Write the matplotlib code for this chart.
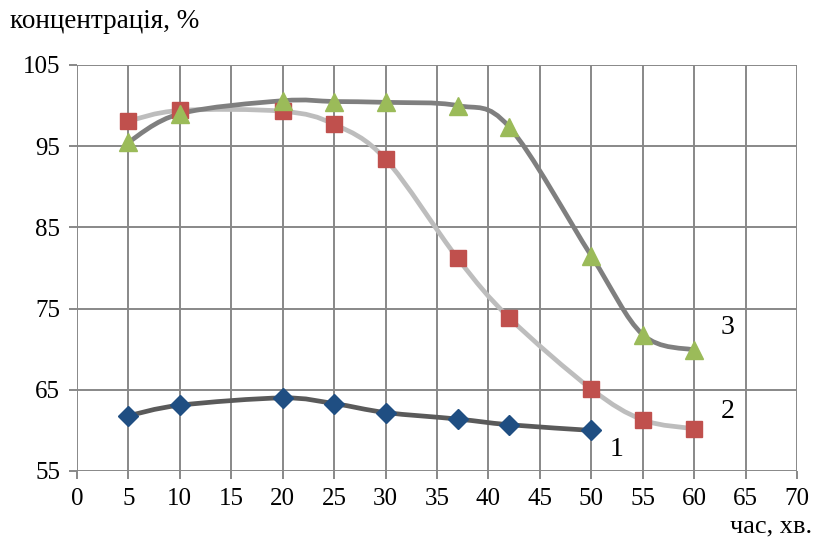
import numpy as np
import matplotlib
matplotlib.use("Agg")
import matplotlib.pyplot as plt
from matplotlib.path import Path
from matplotlib.patches import PathPatch

# Data
x1 = [5, 10, 20, 25, 30, 37, 42, 50]
y1 = [61.8, 63.1, 64.0, 63.3, 62.2, 61.4, 60.7, 60.0]
x2 = [5, 10, 20, 25, 30, 37, 42, 50, 55, 60]
y2 = [98.1, 99.4, 99.3, 97.7, 93.4, 81.2, 73.9, 65.1, 61.3, 60.2]
x3 = [5, 10, 20, 25, 30, 37, 42, 50, 55, 60]
y3 = [95.5, 99.0, 100.6, 100.5, 100.4, 100.0, 97.4, 81.5, 71.8, 69.9]
curve_labels = ["1", "2", "3"]
x_ticks = list(range(0, 75, 5))
y_ticks = [55, 65, 75, 85, 95, 105]

plt.rcParams['font.family'] = ['Liberation Serif', 'DejaVu Serif']

fig = plt.figure(figsize=(8.14, 5.44), dpi=100)
ax = fig.add_axes([77/814, 1-471/544, (797-77)/814, (471-65)/544])
ax.set_xlim(0, 70)
ax.set_ylim(55, 105)


def smooth_path(ax, xs, ys):
    # Excel-like smoothing with cubic Bezier segments computed in display space
    pts = ax.transData.transform(np.column_stack([xs, ys]))
    n = len(pts)
    verts = [pts[0]]
    codes = [Path.MOVETO]
    for i in range(n - 1):
        p0 = pts[i - 1] if i > 0 else pts[i]
        p1 = pts[i]
        p2 = pts[i + 1]
        p3 = pts[i + 2] if i + 2 < n else pts[i + 1]
        c1 = p1 + (p2 - p0) / 6.0
        c2 = p2 - (p3 - p1) / 6.0
        verts += [c1, c2, p2]
        codes += [Path.CURVE4] * 3
    verts = ax.transData.inverted().transform(np.array(verts))
    return Path(verts, codes)


grid_c = '#888888'
for xv in x_ticks:
    ax.axvline(xv, color=grid_c, lw=1.4, zorder=1)
for yv in y_ticks:
    ax.axhline(yv, color=grid_c, lw=1.4, zorder=1)

for xs, ys, col, lw in [(x1, y1, '#5a5a5a', 3.4), (x2, y2, '#bdbdbd', 3.4), (x3, y3, '#7f7f7f', 3.4)]:
    p = smooth_path(ax, xs, ys)
    ax.add_patch(PathPatch(p, facecolor='none', edgecolor=col, lw=lw, zorder=2, capstyle='round'))

ax.plot(x1, y1, linestyle='none', marker='D', ms=10.5, color='#1f4e82', mec='#1f4e82', zorder=3)
ax.plot(x2, y2, linestyle='none', marker='s', ms=12, color='#c0504d', mec='#c0504d', zorder=3)
ax.plot(x3, y3, linestyle='none', marker='^', ms=13.5, color='#9bbb59', mec='#9bbb59', zorder=4)

for s in ax.spines.values():
    s.set_visible(False)
ax.set_xticks(x_ticks)
ax.set_yticks(y_ticks)
ax.tick_params(axis='both', length=6, width=1.4, color=grid_c, labelsize=18, pad=6)

ax.text(52.5, 57.6, curve_labels[0], fontsize=20, ha='center', va='center')
ax.text(63.3, 62.3, curve_labels[1], fontsize=20, ha='center', va='center')
ax.text(63.2, 72.7, curve_labels[2], fontsize=20, ha='center', va='center')

fig.text(10/814, 1-22/544, "концентрація, %", fontsize=19.5, ha='left', va='center')
fig.text(812/814, 1-526/544, "час, хв.", fontsize=19, ha='right', va='center')

fig.savefig("out.png", dpi=100)
